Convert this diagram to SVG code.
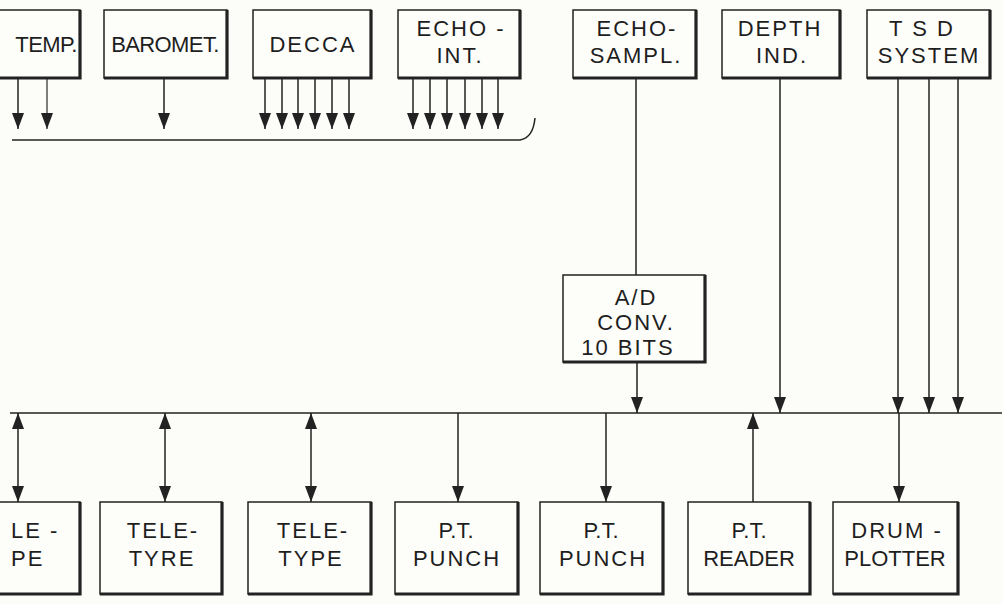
<svg xmlns="http://www.w3.org/2000/svg" width="1002" height="604" viewBox="0 0 1002 604">
<style>
.bg{fill:#fcfcf8}
.box{fill:#fdfdfa;stroke:#222;stroke-width:1.5}
.sh{fill:none;stroke:#222;stroke-width:3.2}
.ln{fill:none;stroke:#222;stroke-width:1.5}
text{font-family:"Liberation Sans",Arial,sans-serif;font-size:22px;fill:#1e1e1e;text-anchor:middle}
.sp{letter-spacing:2px}
.nr{letter-spacing:-0.6px}
</style>
<defs>
<marker id="ah" viewBox="0 0 16 12" refX="16" refY="6" markerWidth="16" markerHeight="12" markerUnits="userSpaceOnUse" orient="auto-start-reverse">
<path d="M0,0 L16,6 L0,12 z" fill="#222"/>
</marker>
</defs>
<rect class="bg" x="0" y="0" width="1002" height="604"/>

<g id="connectors">
<path class="ln" d="M12,140 L520,140 Q533,138 535,118"/>
<line class="ln" x1="18" y1="78" x2="18" y2="129" marker-end="url(#ah)"/>
<line class="ln" x1="47" y1="78" x2="47" y2="129" marker-end="url(#ah)" style="stroke:#555"/>
<line class="ln" x1="164" y1="78" x2="164" y2="129" marker-end="url(#ah)"/>
<line class="ln" x1="265" y1="78" x2="265" y2="129" marker-end="url(#ah)"/>
<line class="ln" x1="282" y1="78" x2="282" y2="129" marker-end="url(#ah)"/>
<line class="ln" x1="298" y1="78" x2="298" y2="129" marker-end="url(#ah)"/>
<line class="ln" x1="315" y1="78" x2="315" y2="129" marker-end="url(#ah)"/>
<line class="ln" x1="332" y1="78" x2="332" y2="129" marker-end="url(#ah)"/>
<line class="ln" x1="349" y1="78" x2="349" y2="129" marker-end="url(#ah)"/>
<line class="ln" x1="413" y1="78" x2="413" y2="129" marker-end="url(#ah)"/>
<line class="ln" x1="430" y1="78" x2="430" y2="129" marker-end="url(#ah)"/>
<line class="ln" x1="447" y1="78" x2="447" y2="129" marker-end="url(#ah)"/>
<line class="ln" x1="465" y1="78" x2="465" y2="129" marker-end="url(#ah)"/>
<line class="ln" x1="482" y1="78" x2="482" y2="129" marker-end="url(#ah)"/>
<line class="ln" x1="498" y1="78" x2="498" y2="129" marker-end="url(#ah)"/>
<line class="ln" x1="10" y1="413" x2="1002" y2="413"/>
<line class="ln" x1="636" y1="78" x2="636" y2="275"/>
<line class="ln" x1="637" y1="362" x2="637" y2="413" marker-end="url(#ah)"/>
<line class="ln" x1="780" y1="78" x2="780" y2="413" marker-end="url(#ah)"/>
<line class="ln" x1="898" y1="78" x2="898" y2="413" marker-end="url(#ah)"/>
<line class="ln" x1="929" y1="78" x2="929" y2="413" marker-end="url(#ah)"/>
<line class="ln" x1="958" y1="78" x2="958" y2="413" marker-end="url(#ah)"/>
<line class="ln" x1="18" y1="413" x2="18" y2="502" marker-start="url(#ah)" marker-end="url(#ah)"/>
<line class="ln" x1="165" y1="413" x2="165" y2="502" marker-start="url(#ah)" marker-end="url(#ah)"/>
<line class="ln" x1="311" y1="413" x2="311" y2="502" marker-start="url(#ah)" marker-end="url(#ah)"/>
<line class="ln" x1="458" y1="413" x2="458" y2="502" marker-end="url(#ah)"/>
<line class="ln" x1="606" y1="413" x2="606" y2="502" marker-end="url(#ah)"/>
<line class="ln" x1="753" y1="502" x2="753" y2="413" marker-end="url(#ah)"/>
<line class="ln" x1="899" y1="413" x2="899" y2="502" marker-end="url(#ah)"/>
</g>

<g id="temp">
<rect class="box" x="-10" y="10" width="90" height="68"/>
<polyline class="sh" points="80,10 80,78 -10,78"/>
<text class="nr" x="46" y="52">TEMP.</text>
</g>
<g id="baromet">
<rect class="box" x="104" y="10" width="123" height="68"/>
<polyline class="sh" points="227,10 227,78 104,78"/>
<text class="nr" x="165" y="52">BAROMET.</text>
</g>
<g id="decca">
<rect class="box" x="253" y="10" width="118" height="68"/>
<polyline class="sh" points="371,10 371,78 253,78"/>
<text class="sp" x="313" y="52">DECCA</text>
</g>
<g id="echo-int">
<rect class="box" x="398" y="10" width="122" height="68"/>
<polyline class="sh" points="520,10 520,78 398,78"/>
<text class="sp" x="461" y="36">ECHO -</text>
<text class="sp" x="460" y="63">INT.</text>
</g>
<g id="echo-sampl">
<rect class="box" x="573" y="10" width="123" height="68"/>
<polyline class="sh" points="696,10 696,78 573,78"/>
<text class="sp" x="637" y="36">ECHO-</text>
<text class="sp" x="636" y="63">SAMPL.</text>
</g>
<g id="depth-ind">
<rect class="box" x="722" y="10" width="118" height="68"/>
<polyline class="sh" points="840,10 840,78 722,78"/>
<text class="sp" x="780" y="36">DEPTH</text>
<text class="sp" x="782" y="63">IND.</text>
</g>
<g id="tsd-system">
<rect class="box" x="867" y="10" width="123" height="68"/>
<polyline class="sh" points="990,10 990,78 867,78"/>
<text class="sp" x="922" y="36">T S D</text>
<text class="sp" x="929" y="63">SYSTEM</text>
</g>
<g id="ad-conv">
<rect class="box" x="563" y="275" width="142" height="87"/>
<polyline class="sh" points="705,275 705,362 563,362"/>
<text class="sp" x="636" y="305">A/D</text>
<text class="sp" x="636" y="330">CONV.</text>
<text class="sp" x="628" y="355">10 BITS</text>
</g>
<g id="teletype-left">
<rect class="box" x="-10" y="502" width="90" height="92"/>
<polyline class="sh" points="80,502 80,594 -10,594"/>
<text class="sp" x="11" y="538" style="text-anchor:start">LE -</text>
<text class="sp" x="11" y="566" style="text-anchor:start">PE</text>
</g>
<g id="teletyre">
<rect class="box" x="100" y="502" width="122" height="92"/>
<polyline class="sh" points="222,502 222,594 100,594"/>
<text class="sp" x="163" y="538">TELE-</text>
<text class="sp" x="162" y="566">TYRE</text>
</g>
<g id="teletype">
<rect class="box" x="248" y="502" width="123" height="92"/>
<polyline class="sh" points="371,502 371,594 248,594"/>
<text class="sp" x="313" y="538">TELE-</text>
<text class="sp" x="311" y="566">TYPE</text>
</g>
<g id="pt-punch-1">
<rect class="box" x="395" y="502" width="123" height="92"/>
<polyline class="sh" points="518,502 518,594 395,594"/>
<text x="456" y="538">P.T.</text>
<text class="sp" x="457" y="566">PUNCH</text>
</g>
<g id="pt-punch-2">
<rect class="box" x="540" y="502" width="123" height="92"/>
<polyline class="sh" points="663,502 663,594 540,594"/>
<text x="601" y="538">P.T.</text>
<text class="sp" x="603" y="566">PUNCH</text>
</g>
<g id="pt-reader">
<rect class="box" x="688" y="502" width="122" height="92"/>
<polyline class="sh" points="810,502 810,594 688,594"/>
<text x="749" y="538">P.T.</text>
<text x="749" y="566">READER</text>
</g>
<g id="drum-plotter">
<rect class="box" x="833" y="502" width="125" height="92"/>
<polyline class="sh" points="958,502 958,594 833,594"/>
<text class="sp" x="897" y="538">DRUM -</text>
<text x="895" y="566">PLOTTER</text>
</g>
</svg>
